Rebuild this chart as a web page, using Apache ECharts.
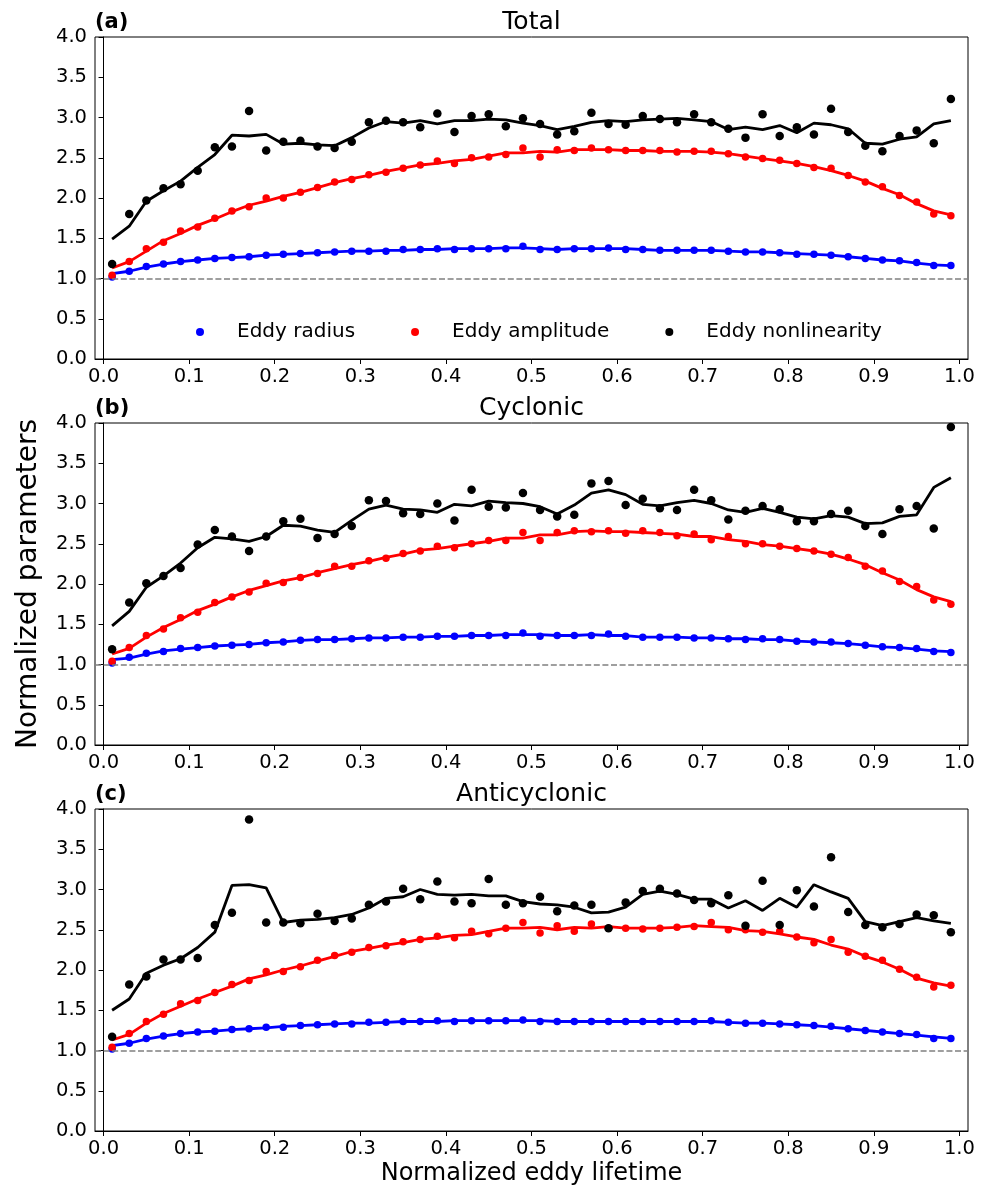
<!DOCTYPE html>
<html>
<head>
<meta charset="utf-8">
<title>Normalized eddy parameters vs lifetime</title>
<script src="https://cdn.jsdelivr.net/npm/echarts@6/dist/echarts.min.js"></script>
<style>
  html, body { margin: 0; padding: 0; background: #fff; }
  #chart { width: 989px; height: 1186px; }
</style>
</head>
<body>
<div id="chart"></div>
<script>
// ----------------------------------------------------------------------------
// Data: x = normalized eddy lifetime bins
// ----------------------------------------------------------------------------
const lifetime = [0.01, 0.03, 0.05, 0.07, 0.09, 0.11, 0.13, 0.15, 0.17, 0.19,
                  0.21, 0.23, 0.25, 0.27, 0.29, 0.31, 0.33, 0.35, 0.37, 0.39,
                  0.41, 0.43, 0.45, 0.47, 0.49, 0.51, 0.53, 0.55, 0.57, 0.59,
                  0.61, 0.63, 0.65, 0.67, 0.69, 0.71, 0.73, 0.75, 0.77, 0.79,
                  0.81, 0.83, 0.85, 0.87, 0.89, 0.91, 0.93, 0.95, 0.97, 0.99];

const xTicks = [0.0, 0.1, 0.2, 0.3, 0.4, 0.5, 0.6, 0.7, 0.8, 0.9, 1.0];
const seriesNames = ['Eddy radius', 'Eddy amplitude', 'Eddy nonlinearity'];

// (a) Total
const totalRadius = [1.02, 1.09, 1.15, 1.18, 1.21, 1.23, 1.25, 1.26, 1.27, 1.29,
                     1.30, 1.31, 1.32, 1.33, 1.34, 1.34, 1.34, 1.36, 1.36, 1.37,
                     1.36, 1.37, 1.37, 1.37, 1.40, 1.36, 1.36, 1.37, 1.37, 1.38,
                     1.36, 1.36, 1.35, 1.35, 1.35, 1.35, 1.34, 1.33, 1.33, 1.32,
                     1.30, 1.30, 1.29, 1.27, 1.25, 1.23, 1.22, 1.20, 1.16, 1.16];
const totalRadiusLine = [1.06, 1.09, 1.14, 1.18, 1.21, 1.23, 1.25, 1.26, 1.27, 1.29,
                         1.30, 1.31, 1.32, 1.33, 1.34, 1.34, 1.35, 1.35, 1.36, 1.36,
                         1.37, 1.37, 1.37, 1.38, 1.38, 1.37, 1.36, 1.37, 1.37, 1.37,
                         1.37, 1.36, 1.35, 1.35, 1.35, 1.35, 1.34, 1.33, 1.33, 1.32,
                         1.31, 1.30, 1.29, 1.27, 1.25, 1.23, 1.22, 1.19, 1.17, 1.16];
const totalAmp = [1.04, 1.21, 1.37, 1.45, 1.59, 1.64, 1.75, 1.84, 1.89, 2.00,
                  2.00, 2.07, 2.13, 2.20, 2.23, 2.29, 2.32, 2.37, 2.41, 2.46,
                  2.43, 2.50, 2.51, 2.54, 2.62, 2.51, 2.60, 2.59, 2.62, 2.60,
                  2.59, 2.59, 2.59, 2.57, 2.58, 2.58, 2.55, 2.51, 2.49, 2.47,
                  2.43, 2.38, 2.37, 2.28, 2.20, 2.14, 2.03, 1.95, 1.80, 1.78];
const totalAmpLine = [1.13, 1.21, 1.34, 1.47, 1.56, 1.66, 1.74, 1.83, 1.91, 1.96,
                      2.02, 2.07, 2.13, 2.19, 2.24, 2.28, 2.33, 2.37, 2.41, 2.43,
                      2.46, 2.48, 2.52, 2.56, 2.56, 2.58, 2.57, 2.60, 2.60, 2.60,
                      2.59, 2.59, 2.58, 2.58, 2.58, 2.57, 2.55, 2.52, 2.49, 2.46,
                      2.43, 2.39, 2.34, 2.28, 2.21, 2.12, 2.04, 1.93, 1.84, 1.79];
const totalNonlin = [1.18, 1.80, 1.97, 2.12, 2.17, 2.34, 2.63, 2.64, 3.08, 2.59,
                     2.70, 2.71, 2.64, 2.62, 2.70, 2.94, 2.96, 2.94, 2.88, 3.05,
                     2.82, 3.02, 3.04, 2.89, 2.99, 2.92, 2.79, 2.83, 3.06, 2.92,
                     2.91, 3.02, 2.98, 2.94, 3.04, 2.94, 2.86, 2.75, 3.04, 2.77,
                     2.88, 2.79, 3.11, 2.82, 2.65, 2.58, 2.77, 2.84, 2.68, 3.23];
const totalNonlinLine = [1.49, 1.65, 1.96, 2.09, 2.21, 2.38, 2.54, 2.78, 2.77, 2.79,
                         2.67, 2.68, 2.66, 2.65, 2.75, 2.87, 2.95, 2.93, 2.96, 2.92,
                         2.96, 2.96, 2.98, 2.97, 2.93, 2.90, 2.85, 2.89, 2.94, 2.96,
                         2.95, 2.97, 2.98, 2.99, 2.97, 2.95, 2.85, 2.88, 2.85, 2.90,
                         2.81, 2.93, 2.91, 2.86, 2.68, 2.67, 2.73, 2.76, 2.92, 2.96];

// (b) Cyclonic
const cycRadius = [1.02, 1.09, 1.14, 1.16, 1.20, 1.21, 1.23, 1.24, 1.25, 1.27,
                   1.28, 1.30, 1.31, 1.31, 1.32, 1.33, 1.33, 1.34, 1.34, 1.35,
                   1.35, 1.36, 1.36, 1.36, 1.39, 1.35, 1.36, 1.36, 1.36, 1.38,
                   1.35, 1.34, 1.34, 1.34, 1.33, 1.33, 1.32, 1.31, 1.32, 1.31,
                   1.29, 1.28, 1.28, 1.26, 1.24, 1.22, 1.21, 1.20, 1.16, 1.15];
const cycRadiusLine = [1.06, 1.08, 1.13, 1.17, 1.19, 1.21, 1.23, 1.24, 1.25, 1.27,
                       1.28, 1.30, 1.31, 1.31, 1.32, 1.33, 1.33, 1.34, 1.34, 1.35,
                       1.35, 1.36, 1.36, 1.37, 1.37, 1.37, 1.36, 1.36, 1.37, 1.36,
                       1.36, 1.34, 1.34, 1.34, 1.33, 1.33, 1.32, 1.32, 1.31, 1.31,
                       1.29, 1.28, 1.27, 1.26, 1.24, 1.22, 1.21, 1.19, 1.17, 1.16];
const cycAmp = [1.04, 1.21, 1.36, 1.44, 1.58, 1.65, 1.77, 1.84, 1.90, 2.01,
                2.02, 2.08, 2.13, 2.22, 2.22, 2.29, 2.32, 2.38, 2.41, 2.47,
                2.45, 2.50, 2.54, 2.54, 2.64, 2.54, 2.64, 2.66, 2.65, 2.66,
                2.63, 2.66, 2.64, 2.60, 2.62, 2.55, 2.59, 2.50, 2.50, 2.47,
                2.44, 2.41, 2.37, 2.33, 2.22, 2.16, 2.03, 1.97, 1.80, 1.75];
const cycAmpLine = [1.13, 1.20, 1.34, 1.46, 1.56, 1.67, 1.75, 1.84, 1.92, 1.98,
                    2.04, 2.08, 2.14, 2.19, 2.24, 2.28, 2.33, 2.37, 2.42, 2.44,
                    2.47, 2.50, 2.53, 2.57, 2.57, 2.61, 2.61, 2.65, 2.66, 2.65,
                    2.65, 2.64, 2.63, 2.62, 2.59, 2.59, 2.55, 2.53, 2.49, 2.47,
                    2.44, 2.41, 2.37, 2.31, 2.24, 2.14, 2.05, 1.93, 1.84, 1.78];
const cycNonlin = [1.19, 1.77, 2.01, 2.10, 2.20, 2.49, 2.67, 2.59, 2.41, 2.59,
                   2.78, 2.81, 2.57, 2.62, 2.72, 3.04, 3.03, 2.88, 2.87, 3.00,
                   2.79, 3.17, 2.96, 2.95, 3.13, 2.92, 2.84, 2.86, 3.25, 3.28,
                   2.98, 3.06, 2.94, 2.92, 3.17, 3.04, 2.80, 2.91, 2.97, 2.93,
                   2.78, 2.78, 2.87, 2.91, 2.72, 2.62, 2.93, 2.97, 2.69, 3.95];
const cycNonlinLine = [1.48, 1.66, 1.96, 2.10, 2.26, 2.45, 2.58, 2.56, 2.53, 2.59,
                       2.73, 2.72, 2.67, 2.64, 2.79, 2.93, 2.98, 2.93, 2.92, 2.89,
                       2.99, 2.97, 3.03, 3.01, 3.00, 2.96, 2.87, 2.98, 3.13, 3.17,
                       3.11, 2.99, 2.97, 3.01, 3.04, 3.00, 2.92, 2.89, 2.94, 2.89,
                       2.83, 2.81, 2.85, 2.83, 2.75, 2.76, 2.84, 2.86, 3.20, 3.32];

// (c) Anticyclonic
const antiRadius = [1.02, 1.09, 1.15, 1.18, 1.21, 1.23, 1.24, 1.26, 1.27, 1.29,
                    1.29, 1.31, 1.32, 1.33, 1.33, 1.35, 1.35, 1.36, 1.36, 1.37,
                    1.36, 1.37, 1.37, 1.37, 1.38, 1.36, 1.36, 1.36, 1.36, 1.36,
                    1.36, 1.36, 1.36, 1.36, 1.36, 1.37, 1.35, 1.34, 1.34, 1.33,
                    1.32, 1.31, 1.30, 1.27, 1.25, 1.23, 1.21, 1.20, 1.15, 1.15];
const antiRadiusLine = [1.06, 1.09, 1.14, 1.18, 1.21, 1.23, 1.24, 1.26, 1.27, 1.28,
                        1.30, 1.31, 1.32, 1.33, 1.34, 1.34, 1.35, 1.36, 1.36, 1.36,
                        1.37, 1.37, 1.37, 1.37, 1.37, 1.37, 1.36, 1.36, 1.36, 1.36,
                        1.36, 1.36, 1.36, 1.36, 1.36, 1.36, 1.35, 1.34, 1.34, 1.33,
                        1.32, 1.31, 1.29, 1.27, 1.25, 1.23, 1.21, 1.19, 1.17, 1.15];
const antiAmp = [1.04, 1.21, 1.36, 1.45, 1.58, 1.62, 1.72, 1.82, 1.87, 1.98,
                 1.98, 2.04, 2.12, 2.18, 2.22, 2.28, 2.30, 2.35, 2.38, 2.42,
                 2.40, 2.48, 2.45, 2.52, 2.59, 2.46, 2.55, 2.48, 2.57, 2.52,
                 2.52, 2.51, 2.52, 2.53, 2.54, 2.59, 2.50, 2.50, 2.47, 2.48,
                 2.41, 2.34, 2.38, 2.22, 2.17, 2.12, 2.01, 1.91, 1.79, 1.81];
const antiAmpLine = [1.13, 1.20, 1.34, 1.46, 1.55, 1.64, 1.72, 1.80, 1.89, 1.94,
                     2.00, 2.05, 2.11, 2.17, 2.23, 2.27, 2.31, 2.34, 2.38, 2.40,
                     2.43, 2.44, 2.48, 2.52, 2.52, 2.53, 2.50, 2.53, 2.52, 2.54,
                     2.52, 2.52, 2.52, 2.53, 2.55, 2.54, 2.53, 2.49, 2.48, 2.45,
                     2.41, 2.38, 2.31, 2.26, 2.17, 2.10, 2.01, 1.90, 1.84, 1.80];
const antiNonlin = [1.17, 1.82, 1.92, 2.13, 2.13, 2.15, 2.56, 2.71, 3.87, 2.59,
                    2.59, 2.58, 2.70, 2.61, 2.64, 2.81, 2.85, 3.01, 2.88, 3.10,
                    2.85, 2.83, 3.13, 2.81, 2.83, 2.91, 2.73, 2.80, 2.81, 2.52,
                    2.84, 2.98, 3.01, 2.95, 2.87, 2.83, 2.93, 2.55, 3.11, 2.56,
                    2.99, 2.79, 3.40, 2.72, 2.56, 2.53, 2.57, 2.69, 2.68, 2.47];
const antiNonlinLine = [1.50, 1.64, 1.96, 2.06, 2.14, 2.28, 2.47, 3.05, 3.06, 3.02,
                        2.59, 2.62, 2.63, 2.65, 2.69, 2.77, 2.89, 2.91, 3.00, 2.94,
                        2.93, 2.94, 2.92, 2.92, 2.85, 2.82, 2.81, 2.78, 2.71, 2.72,
                        2.78, 2.94, 2.98, 2.94, 2.88, 2.88, 2.77, 2.86, 2.74, 2.89,
                        2.78, 3.06, 2.97, 2.89, 2.60, 2.55, 2.60, 2.65, 2.61, 2.58];

// ----------------------------------------------------------------------------
// Layout / style
// ----------------------------------------------------------------------------
const FONT = '"DejaVu Sans", "Liberation Sans", sans-serif';
const colors = ['#0000ff', '#ff0000', '#000000'];
const symbolSizes = [7.5, 7.5, 8.5];
const plotLeft = 95;
const plotWidth = 873;
const plotHeight = 322;

const panels = [
    { label: '(a)', title: 'Total', top: 37,
      points: [totalRadius, totalAmp, totalNonlin],
      lines: [totalRadiusLine, totalAmpLine, totalNonlinLine] },
    { label: '(b)', title: 'Cyclonic', top: 423,
      points: [cycRadius, cycAmp, cycNonlin],
      lines: [cycRadiusLine, cycAmpLine, cycNonlinLine] },
    { label: '(c)', title: 'Anticyclonic', top: 809,
      points: [antiRadius, antiAmp, antiNonlin],
      lines: [antiRadiusLine, antiAmpLine, antiNonlinLine] }
];

const pairs = vals => lifetime.map((x, i) => [x, vals[i]]);

const grids = [], xAxes = [], yAxes = [], series = [], graphics = [];

panels.forEach((p, gi) => {
    grids.push({
        left: plotLeft, top: p.top, width: plotWidth, height: plotHeight,
        show: true, borderColor: '#000', borderWidth: 1,
        backgroundColor: 'transparent', outerBoundsMode: 'none'
    });

    xAxes.push({
        gridIndex: gi, type: 'value', min: -0.01, max: 1.01,
        axisLine: { show: true, onZero: false, lineStyle: { color: '#000', width: 1 } },
        axisTick: { show: true, length: 5, customValues: xTicks, lineStyle: { color: '#000', width: 1 } },
        axisLabel: {
            customValues: xTicks, formatter: v => v.toFixed(1),
            color: '#000', fontSize: 19.5, fontFamily: FONT, margin: 8
        },
        splitLine: { show: false },
        name: gi === 2 ? 'Normalized eddy lifetime' : '',
        nameLocation: 'middle', nameGap: 31,
        nameTextStyle: { color: '#000', fontSize: 24, fontFamily: FONT }
    });

    yAxes.push({
        gridIndex: gi, type: 'value', min: 0, max: 4, interval: 0.5,
        axisLine: { show: true, lineStyle: { color: '#000', width: 1 } },
        axisTick: { show: true, length: 5, lineStyle: { color: '#000', width: 1 } },
        axisLabel: {
            formatter: v => v.toFixed(1),
            color: '#000', fontSize: 19.5, fontFamily: FONT, margin: 8
        },
        splitLine: { show: false },
        name: gi === 1 ? 'Normalized parameters' : '',
        nameLocation: 'middle', nameGap: 52,
        nameTextStyle: { color: '#000', fontSize: 28, fontFamily: FONT }
    });

    // running-mean lines (drawn below the dots)
    p.lines.forEach((vals, k) => {
        const s = {
            name: seriesNames[k] + ' (smoothed)',
            type: 'line', xAxisIndex: gi, yAxisIndex: gi,
            data: pairs(vals), showSymbol: false, symbol: 'none',
            lineStyle: { color: colors[k], width: 2.8 },
            itemStyle: { color: colors[k] }, z: 2
        };
        if (k === 0) {
            s.markLine = {
                silent: true, symbol: ['none', 'none'], label: { show: false },
                lineStyle: { color: '#808080', type: [6, 2.6], width: 1.6 },
                data: [{ yAxis: 1 }]
            };
        }
        series.push(s);
    });

    p.points.forEach((vals, k) => {
        series.push({
            name: seriesNames[k],
            type: 'scatter', xAxisIndex: gi, yAxisIndex: gi,
            data: pairs(vals), symbolSize: symbolSizes[k],
            itemStyle: { color: colors[k], opacity: 1 }, z: 3
        });
    });

    graphics.push({
        type: 'text', x: plotLeft + plotWidth / 2, y: p.top - 14.5,
        style: { text: p.title, font: '25px ' + FONT, fill: '#000',
                 align: 'center', verticalAlign: 'middle',
                 textAlign: 'center', textVerticalAlign: 'middle' }
    });
    graphics.push({
        type: 'text', x: plotLeft, y: p.top - 14,
        style: { text: p.label, font: 'bold 21px ' + FONT, fill: '#000',
                 align: 'left', verticalAlign: 'middle',
                 textAlign: 'left', textVerticalAlign: 'middle' }
    });
});

const chart = echarts.init(document.getElementById('chart'), null, { renderer: 'canvas' });
chart.setOption({
    animation: false,
    backgroundColor: '#fff',
    grid: grids,
    xAxis: xAxes,
    yAxis: yAxes,
    legend: {
        data: seriesNames,
        left: 196, top: 322, padding: 0,
        icon: 'circle', itemWidth: 8, itemHeight: 8, itemGap: 56,
        textStyle: { color: '#000', fontSize: 20, fontFamily: FONT, padding: [0, 0, 0, 28] }
    },
    graphic: graphics,
    series: series
});
</script>
</body>
</html>
